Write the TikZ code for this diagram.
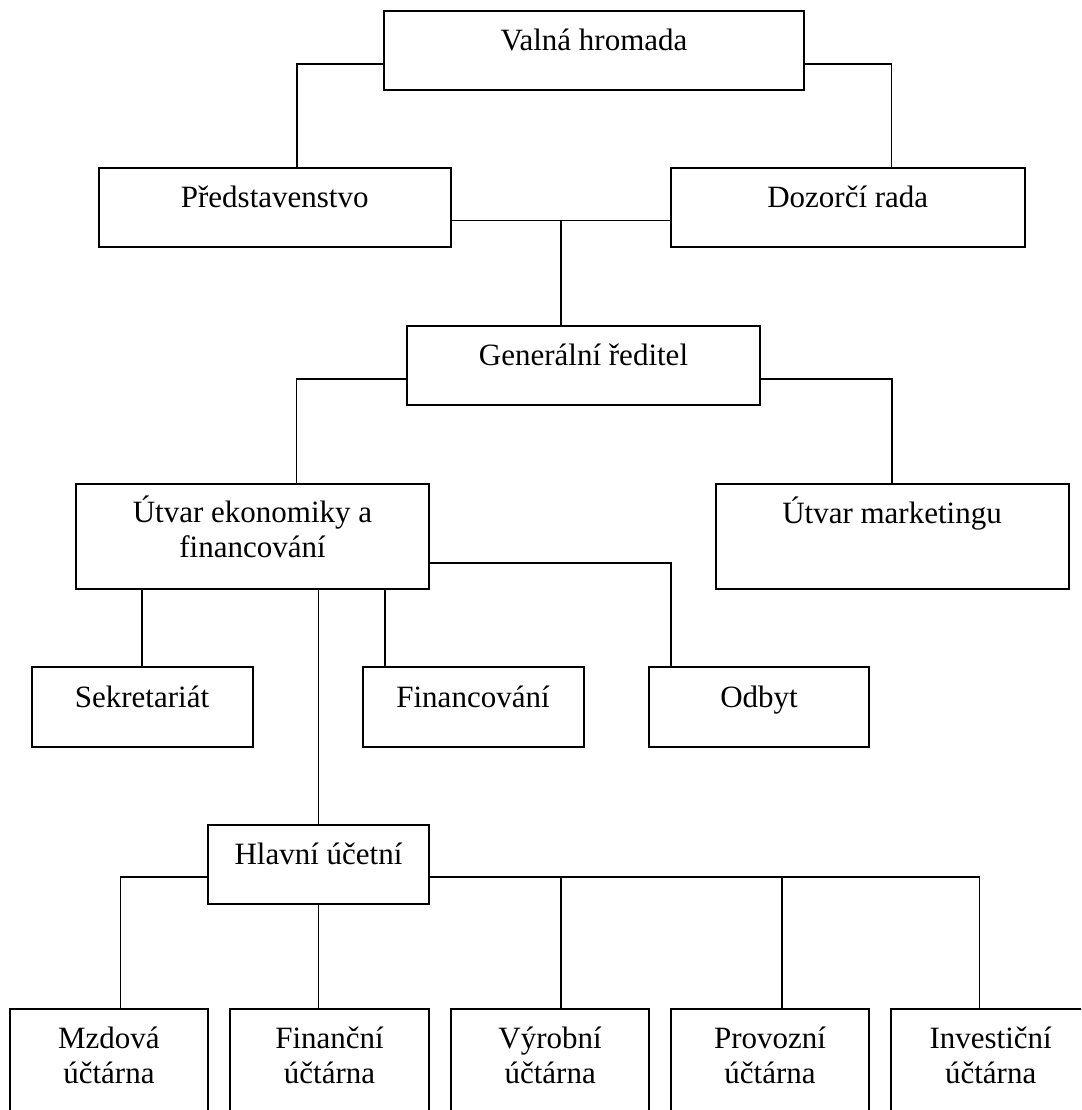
\documentclass[tikz,border=0pt]{standalone}
\usepackage{fontspec}
\setmainfont{Liberation Serif}
\tikzset{
  box/.style={draw, line width=2pt, anchor=north west, inner sep=0pt, outer sep=0pt,
    align=center, font=\fontsize{31}{35}\selectfont, text height=20pt, text depth=20pt},
  tallbox/.style={box, text depth=47pt},
  twobox/.style={box, text height=61pt, text depth=20pt},
  lowbox/.style={box, minimum width=198.5, minimum height=130, text height=55pt, text depth=37pt},
  wire/.style={line width=1.6pt},
}
\begin{document}
\begin{tikzpicture}[x=1pt, y=-1pt]
\useasboundingbox (0,0) rectangle (1081,1110);
\clip (0,0) rectangle (1081,1110);
% vedeni spolecnosti
\node[box, minimum width=420, minimum height=79] (valna) at (384,11) {Valná hromada};
\node[box, minimum width=352.5, minimum height=79] (pred) at (98.5,168) {Představenstvo};
\node[box, minimum width=353.5, minimum height=79] (dozor) at (671,168) {Dozorčí rada};
\node[box, minimum width=353, minimum height=79] (gen) at (407,326) {Generální ředitel};
% utvary
\node[twobox, minimum width=353, minimum height=105] (ekon) at (76,484) {Útvar ekonomiky a\\financování};
\node[tallbox, minimum width=353, minimum height=105] (mark) at (715.5,484) {Útvar marketingu};
\node[box, minimum width=221, minimum height=80] (sekr) at (31.5,667) {Sekretariát};
\node[box, minimum width=221, minimum height=80] (finan) at (362.5,667) {Financování};
\node[box, minimum width=220, minimum height=80] (odbyt) at (649,667) {Odbyt};
\node[box, minimum width=221, minimum height=79] (hlavni) at (208,825) {Hlavní účetní};
% uctarny
\node[lowbox] (mzd) at (9.7,1009) {Mzdová\\účtárna};
\node[lowbox] (fin) at (230.3,1009) {Finanční\\účtárna};
\node[lowbox] (vyr) at (450.9,1009) {Výrobní\\účtárna};
\node[lowbox] (prov) at (670.8,1009) {Provozní\\účtárna};
\node[lowbox] (inv) at (891.4,1009) {Investiční\\účtárna};
% spojnice
\draw[wire] ([yshift=-13.5pt]valna.west) -| ([xshift=22pt]pred.north);
\draw[wire] ([yshift=-13.5pt]valna.east) -| ([xshift=43.75pt]dozor.north);
\draw[wire] ([yshift=-13pt]pred.east) -- ([yshift=-13pt]dozor.west) coordinate[pos=0.5] (rada);
\draw[wire] (rada) -- (rada |- gen.north);
\draw[wire] ([yshift=-13.5pt]gen.west) -| ([xshift=44pt]ekon.north);
\draw[wire] ([yshift=-13.5pt]gen.east) -| (mark.north);
\draw[wire] (sekr.north) -- (sekr.north |- ekon.south);
\draw[wire] ([xshift=-88pt]finan.north) -- ([xshift=-88pt]ekon.south -| finan.north);
\draw[wire] ([yshift=-26.5pt]ekon.east) -| ([xshift=-88pt]odbyt.north);
\draw[wire] (hlavni.north) -- (hlavni.north |- ekon.south);
\draw[wire] ([yshift=-12.5pt]hlavni.west) -| ([xshift=11.5pt]mzd.north);
\draw[wire] (hlavni.south) -- (hlavni.south |- fin.north);
\draw[wire] ([yshift=-12.5pt]hlavni.east) coordinate (linka) -| ([xshift=-11pt]inv.north);
\draw[wire] ([xshift=11pt]vyr.north) -- ([xshift=11pt]vyr.north |- linka);
\draw[wire] ([xshift=11.8pt]prov.north) -- ([xshift=11.8pt]prov.north |- linka);
\end{tikzpicture}
\end{document}
